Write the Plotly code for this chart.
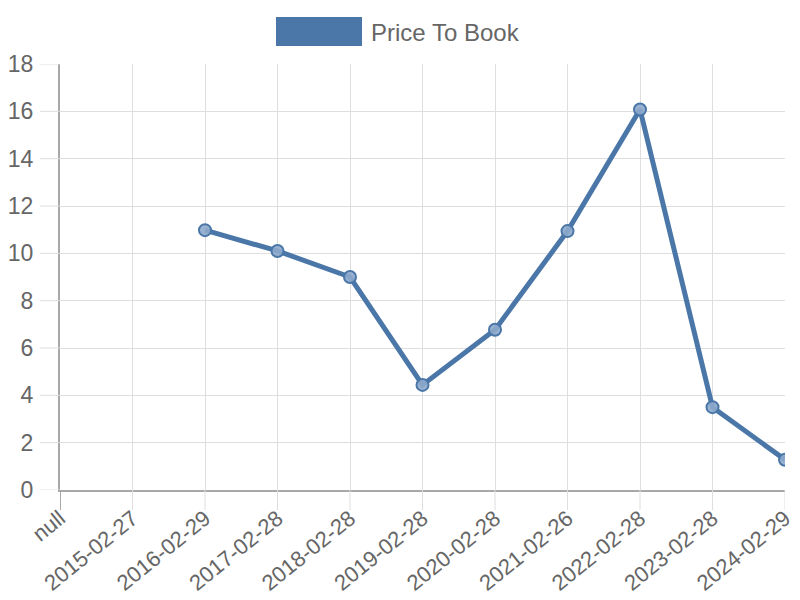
import plotly.graph_objects as go

# data
dates = ["null", "2015-02-27", "2016-02-29", "2017-02-28", "2018-02-28", "2019-02-28",
         "2020-02-28", "2021-02-26", "2022-02-28", "2023-02-28", "2024-02-29"]
price_to_book = [None, None, 10.98, 10.1, 9.0, 4.44, 6.77, 10.94, 16.08, 3.5, 1.28]
y_ticks = [0, 2, 4, 6, 8, 10, 12, 14, 16, 18]
series_name = "Price To Book"

line_color = "#4a77a8"
grid_color = "#dedede"
axis_color = "#a8a8a8"
font = dict(family="Liberation Sans, Arial, sans-serif", size=23, color="#666666")

# plot area in pixels (left, right, top, bottom)
L, R, T, B = 60, 785, 64, 490
pw, ph = R - L, B - T
tick_len = 20

fig = go.Figure()
fig.add_trace(go.Scatter(
    x=dates, y=price_to_book, mode="lines+markers", name=series_name,
    line=dict(color=line_color, width=5),
    marker=dict(size=12, color="rgba(142,170,204,0.9)", line=dict(color=line_color, width=2)),
    connectgaps=False, showlegend=False,
))

# legend drawn like the chart's box legend
fig.add_shape(type="rect", xref="paper", yref="paper",
              x0=(276 - L) / pw, x1=(362 - L) / pw,
              y0=(B - 46) / ph, y1=(B - 17) / ph,
              fillcolor=line_color, line=dict(width=0))
fig.add_annotation(text=series_name, xref="paper", yref="paper",
                   x=(369 - L) / pw, y=(B - 32) / ph, xanchor="left", yanchor="middle",
                   showarrow=False, font=dict(family=font["family"], size=24, color="#666666"))

# grid lines carried out past the axes as tick marks
for i, d in enumerate(dates):
    fig.add_shape(type="line", xref="x", yref="paper", x0=d, x1=d, y0=0, y1=-tick_len / ph,
                  line=dict(color=axis_color if i == 0 else grid_color, width=2 if i == 0 else 1))
for v in y_ticks:
    fig.add_shape(type="line", xref="paper", yref="y", x0=-tick_len / pw, x1=0, y0=v, y1=v,
                  line=dict(color=grid_color, width=1))

fig.update_layout(
    width=800, height=600,
    margin=dict(l=L, r=800 - R, t=T, b=600 - B, autoexpand=False),
    paper_bgcolor="white", plot_bgcolor="white",
    font=font,
    showlegend=False,
)
fig.update_xaxes(
    type="category", range=[0, 10], tickangle=-39,
    showgrid=True, gridcolor=grid_color, gridwidth=1,
    ticks="", ticklabelstandoff=5,
    showline=True, linecolor=axis_color, linewidth=2,
    tickfont=dict(font, size=22), automargin=False,
)
fig.update_yaxes(
    range=[0, 18], tickvals=y_ticks,
    showgrid=True, gridcolor=grid_color, gridwidth=1,
    ticks="", ticklabelstandoff=20,
    showline=True, linecolor=axis_color, linewidth=2,
    zeroline=False, tickfont=font, automargin=False,
)

fig.write_html("out.html", config={"displayModeBar": False},
               post_script="document.body.style.margin='0';")
